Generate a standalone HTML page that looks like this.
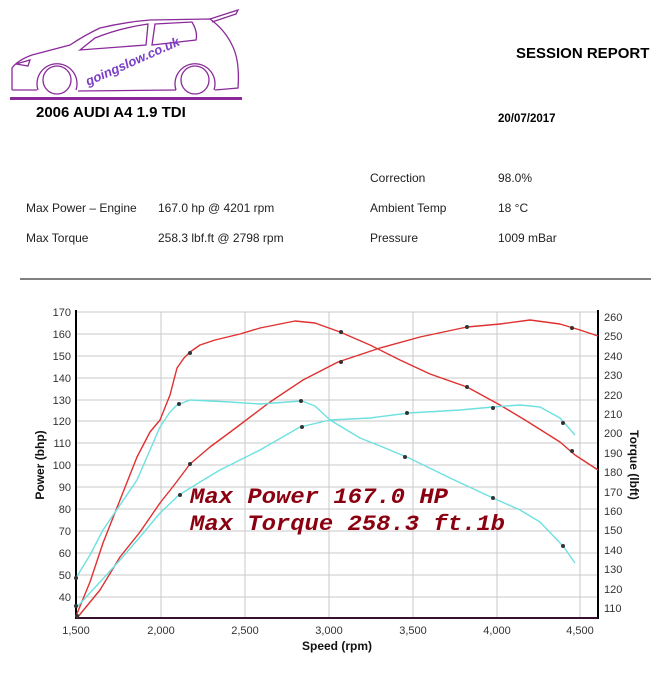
<!DOCTYPE html>
<html><head><meta charset="utf-8"><style>
html,body{margin:0;padding:0;background:#fff;}
body{width:666px;height:679px;position:relative;overflow:hidden;font-family:"Liberation Sans",sans-serif;}
.t{position:absolute;font-size:12px;color:#222;white-space:nowrap;}
</style></head><body>
<svg width="666" height="679" style="position:absolute;left:0;top:0" font-family="Liberation Sans, sans-serif">
<g fill="none" stroke="#8a2a9a" stroke-width="1.3">
<path d="M12,90 L12,68 Q18,60 32,55 L70,45 Q85,35 100,28 Q125,22 150,20 L210,19 Q225,30 232,45 Q240,60 238,88 L215,90 M176,90 L78,91 M37,90 L12,90"/>
<path d="M38,90 A20,20 0 1 1 76,90"/><circle cx="57" cy="80" r="14"/>
<path d="M176,90 A20,20 0 1 1 214,90"/><circle cx="195" cy="80" r="14"/>
<path d="M80,50 L95,38 Q120,28 148,24 L146,45 Z M155,24 L192,22 Q198,32 196,40 L152,45 Z"/>
<path d="M210,19 L238,10 L236,14 L212,22"/>
<path d="M16,64 L30,60 L28,66 Z"/>
</g>
<rect x="10" y="97" width="232" height="3" fill="#8a2a9a"/>
<text x="88" y="86" font-size="13" font-weight="bold" font-style="italic" fill="#7b3fc8" transform="rotate(-24 88 86)">goingslow.co.uk</text>
<text x="36" y="117" font-size="15" font-weight="bold" fill="#000">2006 AUDI A4 1.9 TDI</text>
<text x="516" y="58" font-size="15" font-weight="bold" fill="#000">SESSION REPORT</text>
<text x="498" y="122" font-size="11.5" font-weight="bold" fill="#000">20/07/2017</text>
<line x1="20" y1="279" x2="651" y2="279" stroke="#000" stroke-width="1"/>

<g stroke="#c8c8c8" stroke-width="1">
<line x1="76" y1="312" x2="598" y2="312"/><line x1="76" y1="334" x2="598" y2="334"/><line x1="76" y1="356" x2="598" y2="356"/><line x1="76" y1="378" x2="598" y2="378"/><line x1="76" y1="400" x2="598" y2="400"/><line x1="76" y1="421" x2="598" y2="421"/><line x1="76" y1="443" x2="598" y2="443"/><line x1="76" y1="465" x2="598" y2="465"/><line x1="76" y1="487" x2="598" y2="487"/><line x1="76" y1="509" x2="598" y2="509"/><line x1="76" y1="531" x2="598" y2="531"/><line x1="76" y1="553" x2="598" y2="553"/><line x1="76" y1="575" x2="598" y2="575"/><line x1="76" y1="597" x2="598" y2="597"/>
<line x1="161" y1="312" x2="161" y2="618"/><line x1="245" y1="312" x2="245" y2="618"/><line x1="329" y1="312" x2="329" y2="618"/><line x1="413" y1="312" x2="413" y2="618"/><line x1="497" y1="312" x2="497" y2="618"/><line x1="580" y1="312" x2="580" y2="618"/>
</g>
<line x1="76" y1="310" x2="76" y2="619" stroke="#000" stroke-width="2"/>
<line x1="598" y1="310" x2="598" y2="619" stroke="#000" stroke-width="2"/>
<line x1="76" y1="618" x2="598" y2="618" stroke="#3a1030" stroke-width="2"/>
<g font-size="11" fill="#333" text-anchor="end">
<text x="71" y="316">170</text><text x="71" y="338">160</text><text x="71" y="360">150</text><text x="71" y="382">140</text><text x="71" y="404">130</text><text x="71" y="425">120</text><text x="71" y="447">110</text><text x="71" y="469">100</text><text x="71" y="491">90</text><text x="71" y="513">80</text><text x="71" y="535">70</text><text x="71" y="557">60</text><text x="71" y="579">50</text><text x="71" y="601">40</text>
</g>
<g font-size="11" fill="#333">
<text x="604" y="321">260</text><text x="604" y="340">250</text><text x="604" y="360">240</text><text x="604" y="379">230</text><text x="604" y="399">220</text><text x="604" y="418">210</text><text x="604" y="437">200</text><text x="604" y="457">190</text><text x="604" y="476">180</text><text x="604" y="496">170</text><text x="604" y="515">160</text><text x="604" y="534">150</text><text x="604" y="554">140</text><text x="604" y="573">130</text><text x="604" y="593">120</text><text x="604" y="612">110</text>
</g>
<g font-size="11" fill="#333" text-anchor="middle">
<text x="76" y="634">1,500</text><text x="161" y="634">2,000</text><text x="245" y="634">2,500</text><text x="329" y="634">3,000</text><text x="413" y="634">3,500</text><text x="497" y="634">4,000</text><text x="580" y="634">4,500</text>
</g>
<text x="337" y="650" font-size="12" font-weight="bold" text-anchor="middle" fill="#111">Speed (rpm)</text>
<text transform="translate(44 465) rotate(-90)" font-size="12" font-weight="bold" text-anchor="middle" fill="#111">Power (bhp)</text>
<text transform="translate(630 465) rotate(90)" font-size="12" font-weight="bold" text-anchor="middle" fill="#111">Torque (lbft)</text>

<g fill="none" stroke-width="1.4" stroke-linejoin="round">
<polyline stroke="#e03030" points="76,616 90,582 103,543 120,500 137,457 150,432 160,420 170,395 177,368 184,358 190,352 200,345 215,340 240,334 260,328 295,321 315,323 340,332 370,345 400,360 430,374 467,387 500,405 525,420 560,442 575,455 598,470"/>
<polyline stroke="#e03030" points="77,618 100,590 120,557 140,532 160,503 175,484 190,464 210,447 233,430 270,402 303,380 338,362 380,348 420,337 467,327 500,324 530,320 560,324 580,330 598,336"/>
<polyline stroke="#6ee0e0" points="76,578 90,555 103,530 120,505 137,480 150,450 160,427 170,412 177,405 190,400 230,402 260,404 302,401 315,406 330,420 360,438 385,448 409,458 450,478 493,498 520,510 540,522 563,546 575,563"/>
<polyline stroke="#6ee0e0" points="77,607 100,582 120,560 140,537 160,513 179,495 200,482 220,470 260,450 300,427 330,420 370,418 409,413 460,410 493,407 520,405 540,407 560,418 575,435"/>
</g>
<g fill="#333">
<circle cx="76" cy="578" r="2"/><circle cx="76" cy="606" r="2"/><circle cx="179" cy="404" r="2"/><circle cx="180" cy="495" r="2"/><circle cx="301" cy="401" r="2"/><circle cx="302" cy="427" r="2"/><circle cx="405" cy="457" r="2"/><circle cx="407" cy="413" r="2"/><circle cx="493" cy="498" r="2"/><circle cx="493" cy="408" r="2"/><circle cx="563" cy="546" r="2"/><circle cx="563" cy="423" r="2"/>
<circle cx="190" cy="353" r="2"/><circle cx="190" cy="464" r="2"/><circle cx="341" cy="332" r="2"/><circle cx="341" cy="362" r="2"/><circle cx="467" cy="387" r="2"/><circle cx="467" cy="327" r="2"/><circle cx="572" cy="451" r="2"/><circle cx="572" cy="328" r="2"/><circle cx="77" cy="616" r="2"/>
</g>
<g font-family="Liberation Mono, monospace" font-style="italic" font-weight="bold" font-size="22" fill="#8b0010">
<text x="190" y="503" textLength="258" lengthAdjust="spacingAndGlyphs">Max Power 167.0 HP</text>
<text x="190" y="530" textLength="315" lengthAdjust="spacingAndGlyphs">Max Torque 258.3 ft.1b</text>
</g>
</svg>
<div class="t" style="left:370px;top:171px">Correction</div>
<div class="t" style="left:498px;top:171px">98.0%</div>
<div class="t" style="left:26px;top:201px">Max Power – Engine</div>
<div class="t" style="left:158px;top:201px">167.0 hp @ 4201 rpm</div>
<div class="t" style="left:370px;top:201px">Ambient Temp</div>
<div class="t" style="left:498px;top:201px">18 °C</div>
<div class="t" style="left:26px;top:231px">Max Torque</div>
<div class="t" style="left:158px;top:231px">258.3 lbf.ft @ 2798 rpm</div>
<div class="t" style="left:370px;top:231px">Pressure</div>
<div class="t" style="left:498px;top:231px">1009 mBar</div>
</body></html>
